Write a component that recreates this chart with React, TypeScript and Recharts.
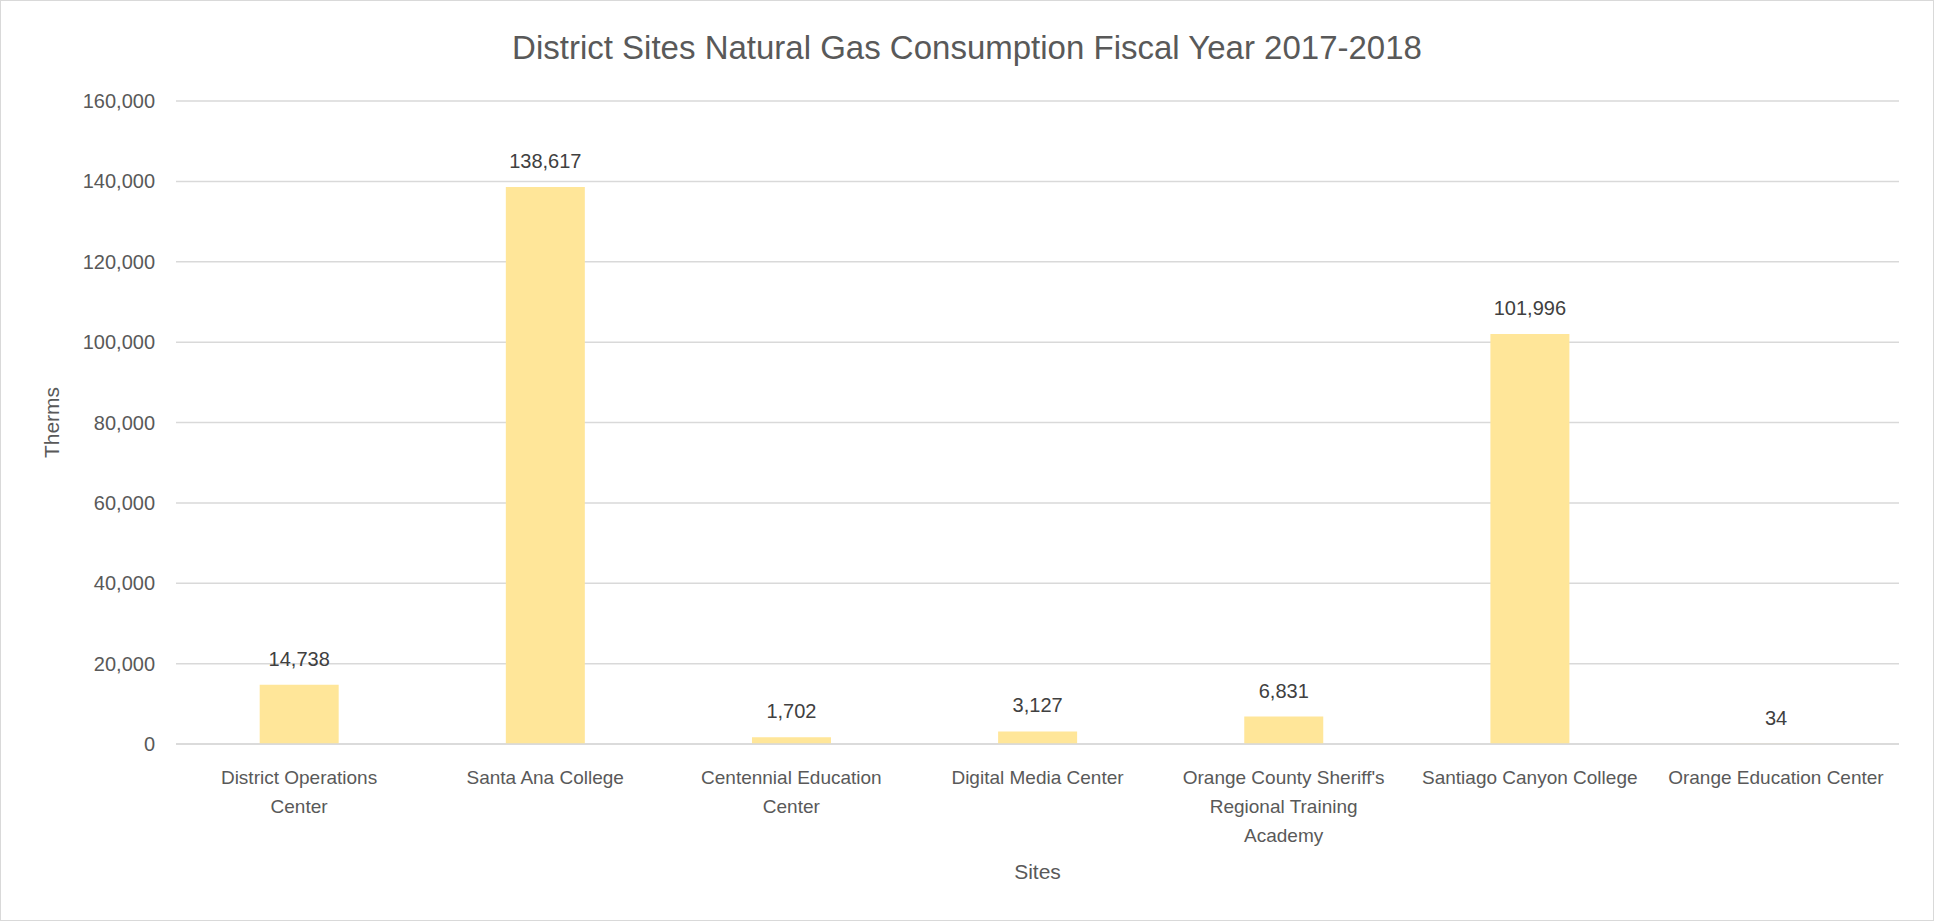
import React from 'react'
import { BarChart, Bar, XAxis, YAxis, CartesianGrid, LabelList } from 'recharts'

const sites = [
  'District Operations Center',
  'Santa Ana College',
  'Centennial Education Center',
  'Digital Media Center',
  "Orange County Sheriff's Regional Training Academy",
  'Santiago Canyon College',
  'Orange Education Center',
]
// how each category label wraps under the axis
const siteLines = [
  ['District Operations', 'Center'],
  ['Santa Ana College'],
  ['Centennial Education', 'Center'],
  ['Digital Media Center'],
  ["Orange County Sheriff's", 'Regional Training', 'Academy'],
  ['Santiago Canyon College'],
  ['Orange Education Center'],
]
const therms = [14738, 138617, 1702, 3127, 6831, 101996, 34]
const yTicks = [0, 20000, 40000, 60000, 80000, 100000, 120000, 140000, 160000]

const data = sites.map((s, i) => ({ site: s, idx: i, therms: therms[i] }))

const FONT = '"Liberation Sans", Arial, sans-serif'
const fmt = (v: any) => Number(v).toLocaleString('en-US')

function SiteTick(props: any) {
  const { x, y, payload } = props
  const lines = siteLines[payload.index] || [String(payload.value)]
  return (
    <text x={x} y={y} textAnchor="middle" fill="#595959" fontSize={19} fontFamily={FONT}>
      {lines.map((l, i) => (
        <tspan key={i} x={x} dy={i === 0 ? '0.85em' : 29}>{l}</tspan>
      ))}
    </text>
  )
}

export default function App() {
  return (
    <div style={{ position: 'relative', width: 1934, height: 921, fontFamily: FONT }}>
      <style>{`body{margin:0}`}</style>
      <div style={{
        position: 'absolute', left: 0, top: 0, width: 1932, height: 919,
        border: '1px solid #D9D9D9', pointerEvents: 'none',
      }} />
      <div style={{
        position: 'absolute', left: 0, top: 28, width: 1934, textAlign: 'center',
        fontSize: 33, color: '#595959', lineHeight: '40px',
      }}>
        District Sites Natural Gas Consumption Fiscal Year 2017-2018
      </div>
      <BarChart
        width={1934}
        height={921}
        data={data}
        margin={{ top: 101, right: 35, left: 0, bottom: 0 }}
        barCategoryGap="34%"
      >
        <CartesianGrid vertical={false} stroke="#D9D9D9" strokeWidth={1.5} />
        <XAxis
          dataKey="site"
          height={177}
          interval={0}
          tickLine={false}
          axisLine={{ stroke: '#D9D9D9', strokeWidth: 1.5 }}
          tick={<SiteTick />}
          tickMargin={18}
          label={{ value: 'Sites', position: 'insideBottom', offset: 42, fill: '#595959', fontSize: 21 }}
        />
        <YAxis
          width={176}
          domain={[0, 160000]}
          ticks={yTicks}
          tickFormatter={fmt}
          tickLine={false}
          axisLine={false}
          tickMargin={15}
          tick={{ fill: '#595959', fontSize: 20 }}
          label={{
            value: 'Therms', angle: -90, position: 'insideLeft', offset: 52,
            fill: '#595959', fontSize: 21, style: { textAnchor: 'middle' },
          }}
        />
        <Bar dataKey="therms" fill="#FFE699" isAnimationActive={false}>
          <LabelList dataKey="therms" position="top" offset={19} formatter={fmt} fill="#404040" fontSize={20} />
        </Bar>
      </BarChart>
    </div>
  )
}
